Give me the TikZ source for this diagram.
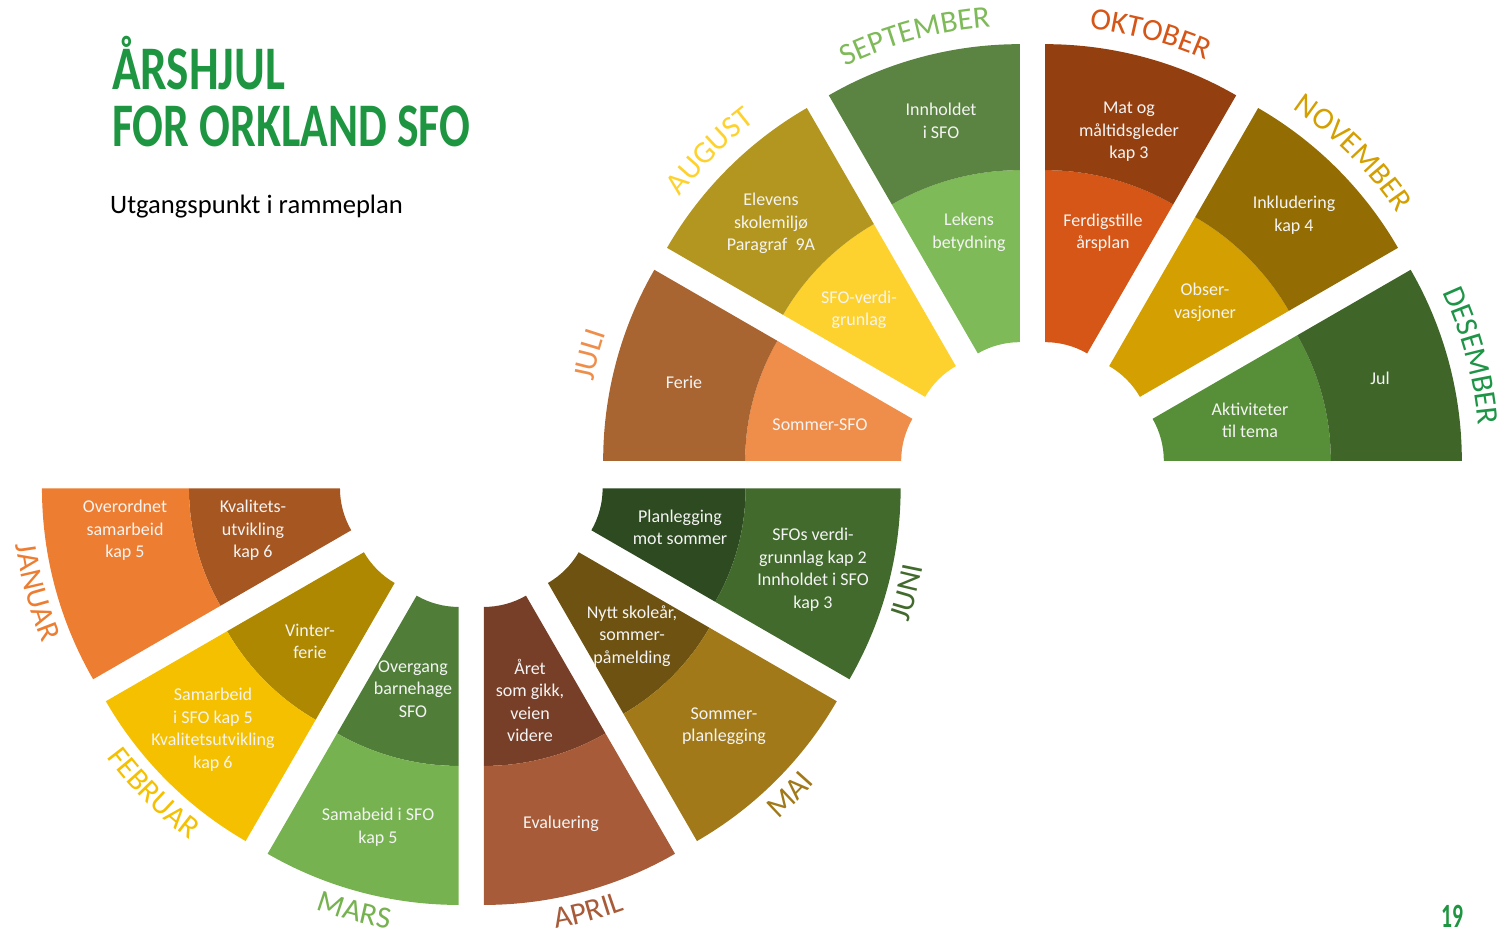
\documentclass[tikz,border=0pt]{standalone}
\usepackage{fontspec}
\setmainfont{Carlito}
\usetikzlibrary{calc,decorations.text}
% top wheel colours
\definecolor{julI}{HTML}{EF8E4A}\definecolor{julO}{HTML}{A86532}
\definecolor{augI}{HTML}{FED22E}\definecolor{augO}{HTML}{B3961F}
\definecolor{sepI}{HTML}{7FBA59}\definecolor{sepO}{HTML}{5B8341}
\definecolor{oktI}{HTML}{D55616}\definecolor{oktO}{HTML}{943F0F}
\definecolor{novI}{HTML}{D49F00}\definecolor{novO}{HTML}{936D04}
\definecolor{desI}{HTML}{578E38}\definecolor{desO}{HTML}{3F6529}
\definecolor{desL}{HTML}{1E9447}
% bottom wheel colours
\definecolor{janI}{HTML}{A65621}\definecolor{janO}{HTML}{ED7D31}
\definecolor{febI}{HTML}{AD8800}\definecolor{febO}{HTML}{F5C000}
\definecolor{marI}{HTML}{507E39}\definecolor{marO}{HTML}{76B24F}
\definecolor{aprI}{HTML}{783F28}\definecolor{aprO}{HTML}{A85B39}
\definecolor{maiI}{HTML}{6D5211}\definecolor{maiO}{HTML}{A17918}
\definecolor{junI}{HTML}{2D4A20}\definecolor{junO}{HTML}{416A2C}
\definecolor{titleg}{HTML}{1E9540}
\definecolor{txt}{HTML}{F4F4F4}
\newcommand\monthfont{\fontsize{31}{31}\selectfont}
\newcommand\wheelseg[6]{%
  \pgfmathsetmacro\segmid{(#2+#3)/2}%
  \coordinate (S) at ($(#1)+(\segmid:49)$);%
  \fill[#5] ([shift={(#2:84)}]S) arc[start angle=#2,end angle=#3,radius=84] -- ([shift={(#3:#4)}]S) arc[start angle=#3,end angle=#2,radius=#4] -- cycle;%
  \fill[#6] ([shift={(#2:#4)}]S) arc[start angle=#2,end angle=#3,radius=#4] -- ([shift={(#3:382)}]S) arc[start angle=#3,end angle=#2,radius=382] -- cycle;%
}
\newcommand\toplabel[5]{%
  \pgfmathsetmacro\segmid{(#2+#3)/2}%
  \coordinate (S) at ($(#1)+(\segmid:49)$);%
  \path[decorate,decoration={text along path,text align=center,text={|\monthfont\color{#4}|#5}}] ([shift={(#3:400)}]S) arc[start angle=#3,end angle=#2,radius=400];%
}
\newcommand\botlabel[5]{%
  \pgfmathsetmacro\segmid{(#2+#3)/2}%
  \coordinate (S) at ($(#1)+(\segmid:49)$);%
  \path[decorate,decoration={text along path,text align=center,text={|\monthfont\color{#4}|#5}}] ([shift={(#2:412)}]S) arc[start angle=#2,end angle=#3,radius=412];%
}
\tikzset{lbl/.style={text=txt,align=center,inner sep=0pt,font=\fontsize{18}{22.5}\selectfont}}
\begin{document}
\begin{tikzpicture}[x=1pt,y=1pt]
\useasboundingbox (0,0) rectangle (1500,932);
\coordinate (T) at (1032.5,458.5);
\coordinate (B) at (471.3,456.4);
% top wheel
\wheelseg{T}{150}{180}{240}{julI}{julO}
\wheelseg{T}{120}{150}{248}{augI}{augO}
\wheelseg{T}{90}{120}{256}{sepI}{sepO}
\wheelseg{T}{60}{90}{256}{oktI}{oktO}
\wheelseg{T}{30}{60}{256}{novI}{novO}
\wheelseg{T}{0}{30}{251}{desI}{desO}
\toplabel{T}{150}{180}{julI}{JULI}
\toplabel{T}{120}{150}{augI}{AUGUST}
\toplabel{T}{90}{120}{sepI}{SEPTEMBER}
\toplabel{T}{60}{90}{oktI}{OKTOBER}
\toplabel{T}{30}{60}{novI}{NOVEMBER}
\toplabel{T}{0}{30}{desL}{DESEMBER}
% bottom wheel
\wheelseg{B}{180}{210}{235}{janI}{janO}
\wheelseg{B}{210}{240}{242}{febI}{febO}
\wheelseg{B}{240}{270}{243}{marI}{marO}
\wheelseg{B}{270}{300}{243}{aprI}{aprO}
\wheelseg{B}{300}{330}{235}{maiI}{maiO}
\wheelseg{B}{330}{360}{227}{junI}{junO}
\botlabel{B}{180}{210}{janO}{JANUAR}
\botlabel{B}{210}{240}{febO}{FEBRUAR}
\botlabel{B}{240}{270}{marO}{MARS}
\botlabel{B}{270}{300}{aprO}{APRIL}
\botlabel{B}{300}{330}{maiO}{MAI}
\botlabel{B}{330}{360}{junO}{JUNI}
% top texts
\node[lbl] (ferie) at (684,550) {Ferie};
\node[lbl] (sommersfo) at (820,507) {Sommer-SFO};
\node[lbl] (elevens) at (771,708.5) {Elevens\\skolemiljø\\Paragraf\ \ 9A};
\node[lbl] (verdigr) at (859,622) {SFO-verdi-\\grunlag};
\node[lbl] (innh) at (941,811) {Innholdet\\i SFO};
\node[lbl] (lekens) at (969,699.5) {Lekens\\betydning};
\node[lbl] (mat) at (1129,800) {Mat og\\måltidsgleder\\kap 3};
\node[lbl] (ferdig) at (1103,699.5) {Ferdigstille\\årsplan};
\node[lbl] (inkl) at (1294,717) {Inkludering\\kap 4};
\node[lbl] (obser) at (1205,629.5) {Obser-\\vasjoner};
\node[lbl] (jul) at (1380,554) {Jul};
\node[lbl] (aktiv) at (1250,511.5) {Aktiviteter\\til tema};
% bottom texts
\node[lbl] (overordnet) at (125,401.5) {Overordnet\\samarbeid\\kap 5};
\node[lbl] (kvalitet) at (253,401.5) {Kvalitets-\\utvikling\\kap 6};
\node[lbl] (vinter) at (310,290.5) {Vinter-\\ferie};
\node[lbl] (samarb) at (213,202.5) {Samarbeid\\i SFO kap 5\\Kvalitetsutvikling\\kap 6};
\node[lbl] (overgang) at (413,243) {Overgang\\barnehage\\SFO};
\node[lbl] (samabeid) at (378,105) {Samabeid i SFO\\kap 5};
\node[lbl] (aret) at (530,231.5) {Året\\som gikk,\\veien\\videre};
\node[lbl] (evaluering) at (561,108) {Evaluering};
\node[lbl] (nytt) at (632,296) {Nytt skoleår,\\sommer-\\påmelding};
\node[lbl] (sommerpl) at (724,206) {Sommer-\\planlegging};
\node[lbl] (planl) at (680,404.5) {Planlegging\\mot sommer};
\node[lbl] (sfos) at (813,362.5) {SFOs verdi-\\grunnlag kap 2\\Innholdet i SFO\\kap 3};
% title
\node[anchor=base west,inner sep=0pt,text=titleg,font=\fontsize{62}{62}\selectfont\bfseries] (title1) at (112,842) {\resizebox{173pt}{\height}{ÅRSHJUL}};
\node[anchor=base west,inner sep=0pt,text=titleg,font=\fontsize{62}{62}\selectfont\bfseries] (title2) at (112,785) {\resizebox{358pt}{\height}{FOR ORKLAND SFO}};
\node[anchor=base west,inner sep=0pt,font=\fontsize{26.6}{26.6}\selectfont] (sub) at (110,718) {Utgangspunkt i rammeplan};
\node[inner sep=0pt,text=titleg,font=\fontsize{34}{34}\selectfont\bfseries] (page) at (1452,16) {\resizebox{22pt}{\height}{19}};
\end{tikzpicture}
\end{document}
